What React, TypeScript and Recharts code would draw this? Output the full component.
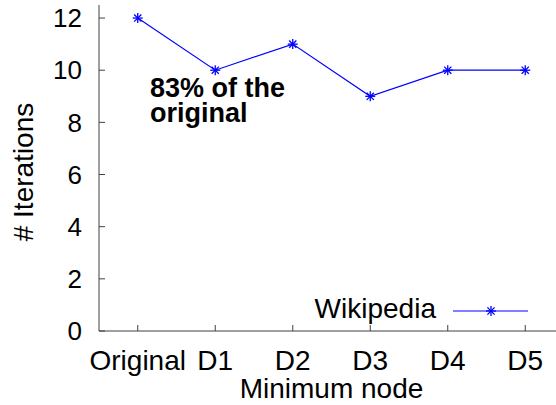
import React from 'react';
import { LineChart, Line, XAxis, YAxis, Legend, Label } from 'recharts';

const categories = ['Original', 'D1', 'D2', 'D3', 'D4', 'D5'];
const iterations = [12, 10, 11, 9, 10, 10];
const yTicks = [0, 2, 4, 6, 8, 10, 12];
const seriesName = 'Wikipedia';
const annotation = ['83% of the', 'original'];

const data = categories.map((c, i) => ({ idx: i, name: c, value: iterations[i] }));
const xTicks = categories.map((_, i) => i);

const FONT = '"Liberation Sans", Arial, sans-serif';
const BLUE = '#0000ff';
const AXIS = '#404040';

const Star = (props: any) => {
  const { cx, cy } = props;
  if (cx == null || cy == null) return null;
  const r = 5;
  const d = 3.6;
  return (
    <g stroke={BLUE} strokeWidth={1.3}>
      <line x1={cx - r} y1={cy} x2={cx + r} y2={cy} />
      <line x1={cx} y1={cy - r} x2={cx} y2={cy + r} />
      <line x1={cx - d} y1={cy - d} x2={cx + d} y2={cy + d} />
      <line x1={cx - d} y1={cy + d} x2={cx + d} y2={cy - d} />
    </g>
  );
};

const LegendContent = (props: any) => {
  const payload = props.payload || [];
  const name = payload.length ? payload[0].value : seriesName;
  return (
    <svg width={240} height={30} style={{ overflow: 'visible' }}>
      <text x={136} y={25} textAnchor="end" fontFamily={FONT} fontSize={28} fill="#000">
        {name}
      </text>
      <line x1={153} y1={18} x2={228} y2={18} stroke={BLUE} strokeWidth={1.2} />
      <Star cx={191} cy={18} />
    </svg>
  );
};

const YLabel = () => (
  <text
    x={0}
    y={0}
    transform="translate(33,172) rotate(-90)"
    textAnchor="middle"
    fontFamily={FONT}
    fontSize={28}
    fill="#000"
  >
    # Iterations
  </text>
);

export default function App() {
  return (
    <div style={{ position: 'absolute', left: 0, top: 0, width: 556, height: 405, overflow: 'hidden', background: '#fff' }}>
      <LineChart
        width={575}
        height={405}
        data={data}
        margin={{ top: 5, right: 11, bottom: 0, left: 0 }}
      >
        <XAxis
          xAxisId="top"
          orientation="top"
          dataKey="idx"
          type="number"
          domain={[-0.5, 5.5]}
          ticks={xTicks}
          height={0}
          tickSize={-6}
          tickFormatter={() => ''}
          stroke={AXIS}
          axisLine={{ stroke: AXIS }}
          tickLine={{ stroke: AXIS }}
        />
        <XAxis
          dataKey="idx"
          type="number"
          domain={[-0.5, 5.5]}
          ticks={xTicks}
          interval={0}
          height={74}
          tickSize={-6}
          tickMargin={25}
          tickFormatter={(v: number) => categories[v] ?? ''}
          tick={{ fill: '#000', fontSize: 28, fontFamily: FONT }}
          axisLine={{ stroke: AXIS }}
          tickLine={{ stroke: AXIS }}
        >
          <Label
            value="Minimum node"
            position="insideBottom"
            offset={7}
            style={{ fill: '#000', fontSize: 28, fontFamily: FONT }}
          />
        </XAxis>
        <YAxis
          type="number"
          domain={[0, 12.5]}
          ticks={yTicks}
          interval={0}
          width={99}
          tickSize={-6}
          tickMargin={23}
          tick={{ fill: '#000', fontSize: 26, fontFamily: FONT }}
          axisLine={{ stroke: AXIS }}
          tickLine={{ stroke: AXIS }}
        >
          <Label content={<YLabel />} />
        </YAxis>
        <Legend
          verticalAlign="middle"
          layout="horizontal"
          content={<LegendContent />}
          wrapperStyle={{ position: 'absolute', left: 300, top: 293, width: 240, height: 30 }}
        />
        <Line
          xAxisId={0}
          dataKey="value"
          name={seriesName}
          stroke={BLUE}
          strokeWidth={1.2}
          dot={<Star />}
          activeDot={false}
          isAnimationActive={false}
        />
      </LineChart>
      <div
        style={{
          position: 'absolute',
          left: 150,
          top: 76,
          fontFamily: FONT,
          fontWeight: 'bold',
          fontSize: 27,
          lineHeight: '25px',
          color: '#000',
          whiteSpace: 'pre',
        }}
      >
        {annotation.join('\n')}
      </div>
    </div>
  );
}
